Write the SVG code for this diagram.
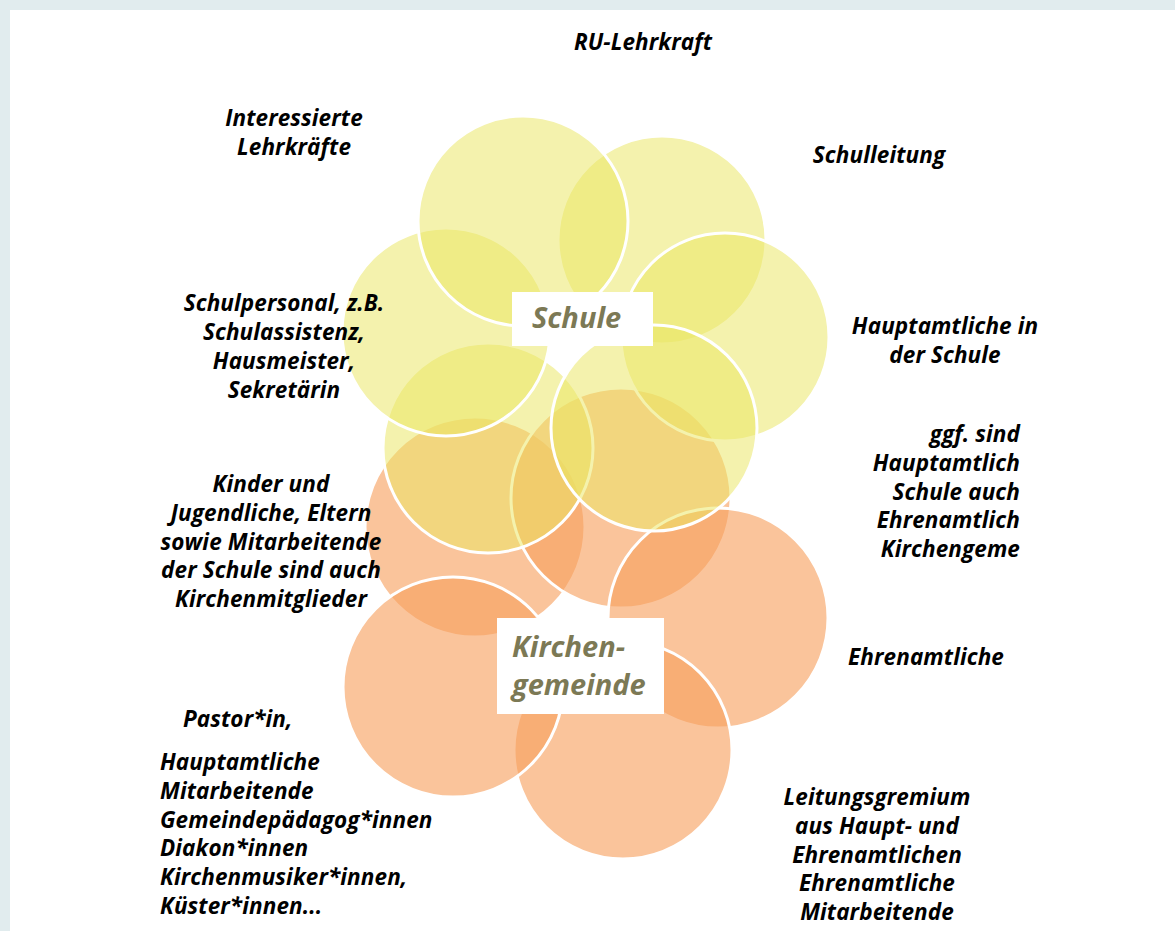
<svg xmlns="http://www.w3.org/2000/svg" width="1175" height="931" viewBox="0 0 1175 931">
<style>
.y{fill:rgb(234,230,100);fill-opacity:0.53;stroke:#fff;stroke-width:3}
.o{fill:rgb(247,160,94);fill-opacity:0.62;stroke:#fff;stroke-width:3}
.t{font-family:"Open Sans","Liberation Sans",sans-serif;font-weight:bold;font-style:italic;font-size:22.5px;letter-spacing:0.1px;fill:#000}
.c{text-anchor:middle}
.e{text-anchor:end}
.h{font-family:"Open Sans","Liberation Sans",sans-serif;font-weight:bold;font-style:italic;font-size:29px;fill:#7c7955}
.box{fill:#fff}
</style>
<rect x="0" y="0" width="1175" height="931" fill="#e1ecee"/>
<rect x="10" y="10" width="1165" height="921" fill="#fff"/>
<g id="kirchengemeinde-circles">
<circle class="o" cx="475" cy="527" r="110"/>
<circle class="o" cx="621" cy="498" r="110"/>
<circle class="o" cx="718" cy="618" r="110"/>
<circle class="o" cx="623" cy="750" r="109"/>
<circle class="o" cx="453" cy="687" r="110"/>
</g>
<g id="schule-circles">
<circle class="y" cx="488" cy="448" r="105"/>
<circle class="y" cx="662" cy="240" r="104"/>
<circle class="y" cx="446" cy="332" r="104"/>
<circle class="y" cx="523" cy="221" r="105"/>
<circle class="y" cx="725" cy="337" r="104"/>
<circle class="y" cx="654" cy="428" r="103"/>
</g>
<g id="connectors"/>
<g id="node-schule">
<rect class="box" x="512" y="292" width="141" height="54"/>
<text class="h" x="532" y="328">Schule</text>
</g>
<g id="node-kirchengemeinde">
<rect class="box" x="497" y="618" width="167" height="96"/>
<text class="h"><tspan x="512" y="657">Kirchen-</tspan><tspan x="512" y="695">gemeinde</tspan></text>
</g>
<g id="label-ru">
<text class="t c" x="643" y="50">RU-Lehrkraft</text>
</g>
<g id="label-interessierte">
<text class="t c"><tspan x="294" y="126">Interessierte</tspan><tspan x="294" y="155">Lehrkräfte</tspan></text>
</g>
<g id="label-schulleitung">
<text class="t c" x="879" y="163">Schulleitung</text>
</g>
<g id="label-schulpersonal">
<text class="t c"><tspan x="284" y="311">Schulpersonal, z.B.</tspan><tspan x="284" y="340">Schulassistenz,</tspan><tspan x="284" y="369">Hausmeister,</tspan><tspan x="284" y="398">Sekretärin</tspan></text>
</g>
<g id="label-hauptamtliche-schule">
<text class="t c"><tspan x="945" y="334">Hauptamtliche in</tspan><tspan x="945" y="363">der Schule</tspan></text>
</g>
<g id="label-ggf">
<text class="t e"><tspan x="1020" y="442">ggf. sind</tspan><tspan x="1020" y="470.8">Hauptamtlich</tspan><tspan x="1020" y="499.6">Schule auch</tspan><tspan x="1020" y="528.4">Ehrenamtlich</tspan><tspan x="1020" y="557.2">Kirchengeme</tspan></text>
</g>
<g id="label-kinder">
<text class="t c"><tspan x="271" y="492">Kinder und</tspan><tspan x="271" y="520.8">Jugendliche, Eltern</tspan><tspan x="271" y="549.6">sowie Mitarbeitende</tspan><tspan x="271" y="578.4">der Schule sind auch</tspan><tspan x="271" y="607.2">Kirchenmitglieder</tspan></text>
</g>
<g id="label-ehrenamtliche">
<text class="t c" x="926" y="665">Ehrenamtliche</text>
</g>
<g id="label-pastor">
<text class="t" x="183" y="727">Pastor*in,</text>
<text class="t"><tspan x="160" y="770">Hauptamtliche</tspan><tspan x="160" y="798.8">Mitarbeitende</tspan><tspan x="160" y="827.6">Gemeindepädagog*innen</tspan><tspan x="160" y="856.4">Diakon*innen</tspan><tspan x="160" y="885.2">Kirchenmusiker*innen,</tspan><tspan x="160" y="914">Küster*innen...</tspan></text>
</g>
<g id="label-leitung">
<text class="t c"><tspan x="877" y="805">Leitungsgremium</tspan><tspan x="877" y="833.8">aus Haupt- und</tspan><tspan x="877" y="862.6">Ehrenamtlichen</tspan><tspan x="877" y="891.4">Ehrenamtliche</tspan><tspan x="877" y="920.2">Mitarbeitende</tspan></text>
</g>
</svg>
